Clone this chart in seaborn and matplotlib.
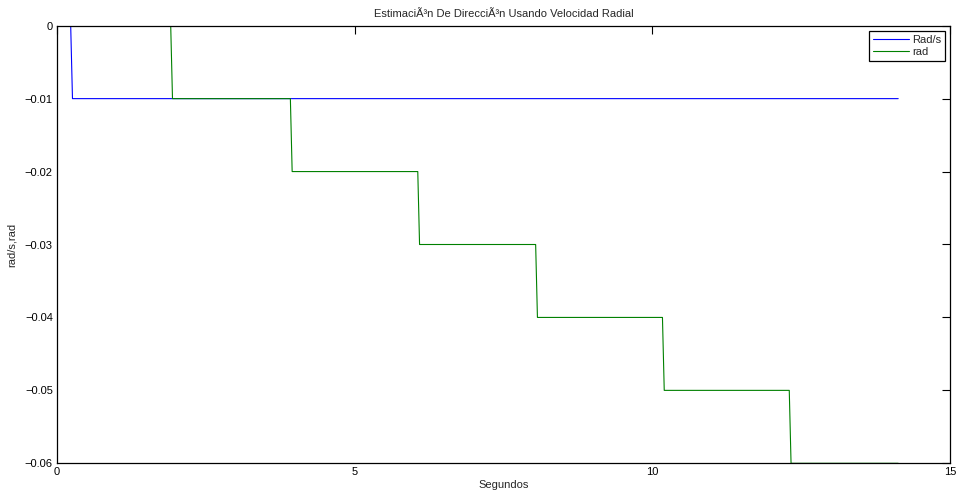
import matplotlib
matplotlib.use("Agg")
import matplotlib.pyplot as plt
import seaborn as sns
import pandas as pd

# Data (step vertices)
t_rads = [0.0, 0.23, 0.26, 14.13]
v_rads = [0.0, 0.0, -0.01, -0.01]

t_rad = [0.0, 1.91, 1.94, 3.92, 3.95, 6.06, 6.09, 8.04, 8.07,
         10.17, 10.20, 12.30, 12.33, 14.13]
v_rad = [0.0, 0.0, -0.01, -0.01, -0.02, -0.02, -0.03, -0.03, -0.04,
         -0.04, -0.05, -0.05, -0.06, -0.06]

series_names = ["Rad/s", "rad"]
title = "EstimaciÃ³n De DirecciÃ³n Usando Velocidad Radial"
x_ticks = [0, 5, 10, 15]
y_ticks = [0, -0.01, -0.02, -0.03, -0.04, -0.05, -0.06]

df = pd.concat([
    pd.DataFrame({"t": t_rads, "v": v_rads, "serie": series_names[0]}),
    pd.DataFrame({"t": t_rad, "v": v_rad, "serie": series_names[1]}),
], ignore_index=True)

sns.set_style("white")
plt.rcParams["font.family"] = ["Liberation Sans", "DejaVu Sans"]

fig = plt.figure(figsize=(9.56, 4.94), dpi=100)
ax = fig.add_axes([57 / 956, 1 - 463.3 / 494, (950 - 57) / 956, (463.3 - 25.7) / 494])

sns.lineplot(data=df, x="t", y="v", hue="serie", palette=["#0000ff", "#008000"],
             estimator=None, sort=False, units="serie", linewidth=0.8, ax=ax,
             legend=True)

ax.set_xlim(0, 15)
ax.set_ylim(-0.06, 0)
ax.set_xticks(x_ticks)
ax.set_xticklabels([str(v) for v in x_ticks])
ax.set_yticks(y_ticks)
ax.set_yticklabels(["0"] + ["\u2212" + f"{abs(v):.2f}" for v in y_ticks[1:]])
ax.tick_params(direction="in", length=6, width=0.8, top=True, right=True,
               labelsize=8, colors="black", pad=3)
for s in ax.spines.values():
    s.set_visible(True)
    s.set_color("black")
    s.set_linewidth(0.9)

ax.set_title(title, fontsize=8, pad=6)
ax.set_xlabel("Segundos", fontsize=8, labelpad=2)
ax.set_ylabel("rad/s,rad", fontsize=8, labelpad=6)

leg = ax.legend(loc="upper right", fontsize=8, frameon=True, fancybox=False,
                edgecolor="black", framealpha=1, borderpad=0.35, handlelength=3.2,
                handletextpad=0.3, labelspacing=0.2, borderaxespad=0.45)
leg.get_frame().set_linewidth(0.9)

fig.savefig("out.png", dpi=100)
